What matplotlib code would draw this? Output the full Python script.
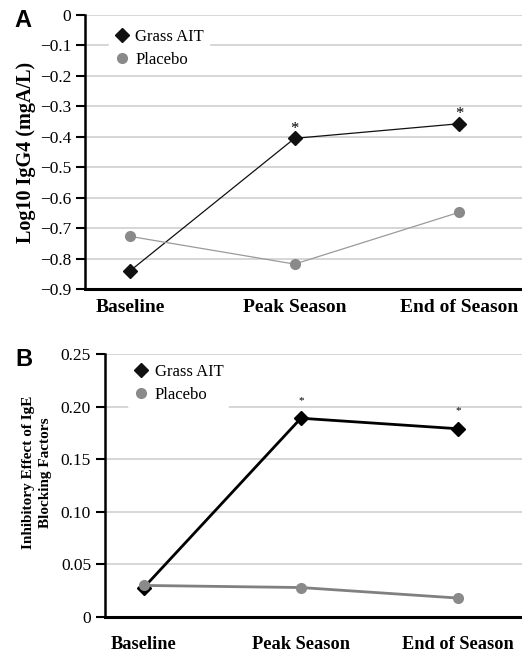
import matplotlib.pyplot as plt
from matplotlib.lines import Line2D

# --- data ---
timepoints = ["Baseline", "Peak Season", "End of Season"]

igg4_grass = [-0.84, -0.405, -0.357]
igg4_placebo = [-0.727, -0.818, -0.648]

block_grass = [0.028, 0.189, 0.179]
block_placebo = [0.030, 0.028, 0.018]

plt.rcParams['font.family'] = ['Liberation Serif', 'DejaVu Serif']

fig = plt.figure(figsize=(5.22, 6.54), dpi=100)
axA = fig.add_axes([0.163, 0.558, 0.837, 0.419])
axB = fig.add_axes([0.201, 0.0566, 0.799, 0.402])

x = list(range(len(timepoints)))


def style_axis(ax, xfs, xpad):
    ax.grid(axis='y', color='#cfcfcf', linewidth=1.2)
    ax.set_axisbelow(True)
    for s in ['top', 'right']:
        ax.spines[s].set_visible(False)
    ax.spines['left'].set_linewidth(1.8)
    ax.spines['bottom'].set_linewidth(2.2)
    ax.tick_params(axis='y', direction='out', length=6.5, width=1.5, labelsize=12.5)
    ax.tick_params(axis='x', length=0, pad=xpad)
    ax.set_xticks(x)
    ax.set_xticklabels(timepoints, fontweight='bold', fontsize=xfs)


def add_legend(ax, grass_kw, placebo_kw, anchor):
    handles = [Line2D([], [], ls='none', label='Grass AIT', **grass_kw),
               Line2D([], [], ls='none', label='Placebo', **placebo_kw)]
    leg = ax.legend(handles=handles, loc='upper left', bbox_to_anchor=anchor,
                    frameon=True, fontsize=12, handletextpad=0.3, handlelength=1.0,
                    borderpad=0.3, labelspacing=0.4)
    leg.get_frame().set_edgecolor('white')
    leg.get_frame().set_alpha(1)


grass_mk = dict(marker='D', ms=7, color='#111111')
placebo_mk = dict(marker='o', ms=7, mec='#8a8a8a', mfc='#8a8a8a')

# --- panel A ---
axA.plot(x, igg4_grass, color='#111111', lw=0.9, zorder=3, marker='D', ms=7)
axA.plot(x, igg4_placebo, color='#9a9a9a', lw=0.9, zorder=3, **placebo_mk)
axA.set_ylim(-0.9, 0)
axA.set_yticks([0, -0.1, -0.2, -0.3, -0.4, -0.5, -0.6, -0.7, -0.8, -0.9])
axA.set_yticklabels(['0'] + ['\u2212%.1f' % (i / 10) for i in range(1, 10)])
axA.set_xlim(-0.274, 2.383)
style_axis(axA, 14, 7)
axA.set_ylabel('Log10 IgG4 (mgA/L)', fontweight='bold', fontsize=14.5, labelpad=3)
for i in [1, 2]:
    axA.annotate('*', (x[i], igg4_grass[i]), xytext=(0, 4), textcoords='offset points',
                 ha='center', fontsize=12)
add_legend(axA, grass_mk, placebo_mk, (0.035, 0.998))
fig.text(0.028, 0.958, 'A', fontfamily='Liberation Sans', fontweight='bold', fontsize=17)

# --- panel B ---
axB.plot(x, block_grass, color='black', lw=2, zorder=3, marker='D', ms=7)
axB.plot(x, block_placebo, color='#808080', lw=2, zorder=3, **placebo_mk)
axB.set_ylim(0, 0.25)
axB.set_yticks([0, 0.05, 0.10, 0.15, 0.20, 0.25])
axB.set_yticklabels(['0', '0.05', '0.10', '0.15', '0.20', '0.25'])
axB.set_xlim(-0.248, 2.408)
style_axis(axB, 13.2, 14)
axB.set_ylabel('Inhibitory Effect of IgE\nBlocking Factors', fontweight='bold',
               fontsize=11, labelpad=6, linespacing=1.45, y=0.55)
for i in [1, 2]:
    axB.annotate('*', (x[i], block_grass[i]), xytext=(0, 11), textcoords='offset points',
                 ha='center', fontsize=8)
add_legend(axB, grass_mk, placebo_mk, (0.035, 1.012))
fig.text(0.03, 0.44, 'B', fontfamily='Liberation Sans', fontweight='bold', fontsize=17)

fig.savefig('out.png', dpi=100)
